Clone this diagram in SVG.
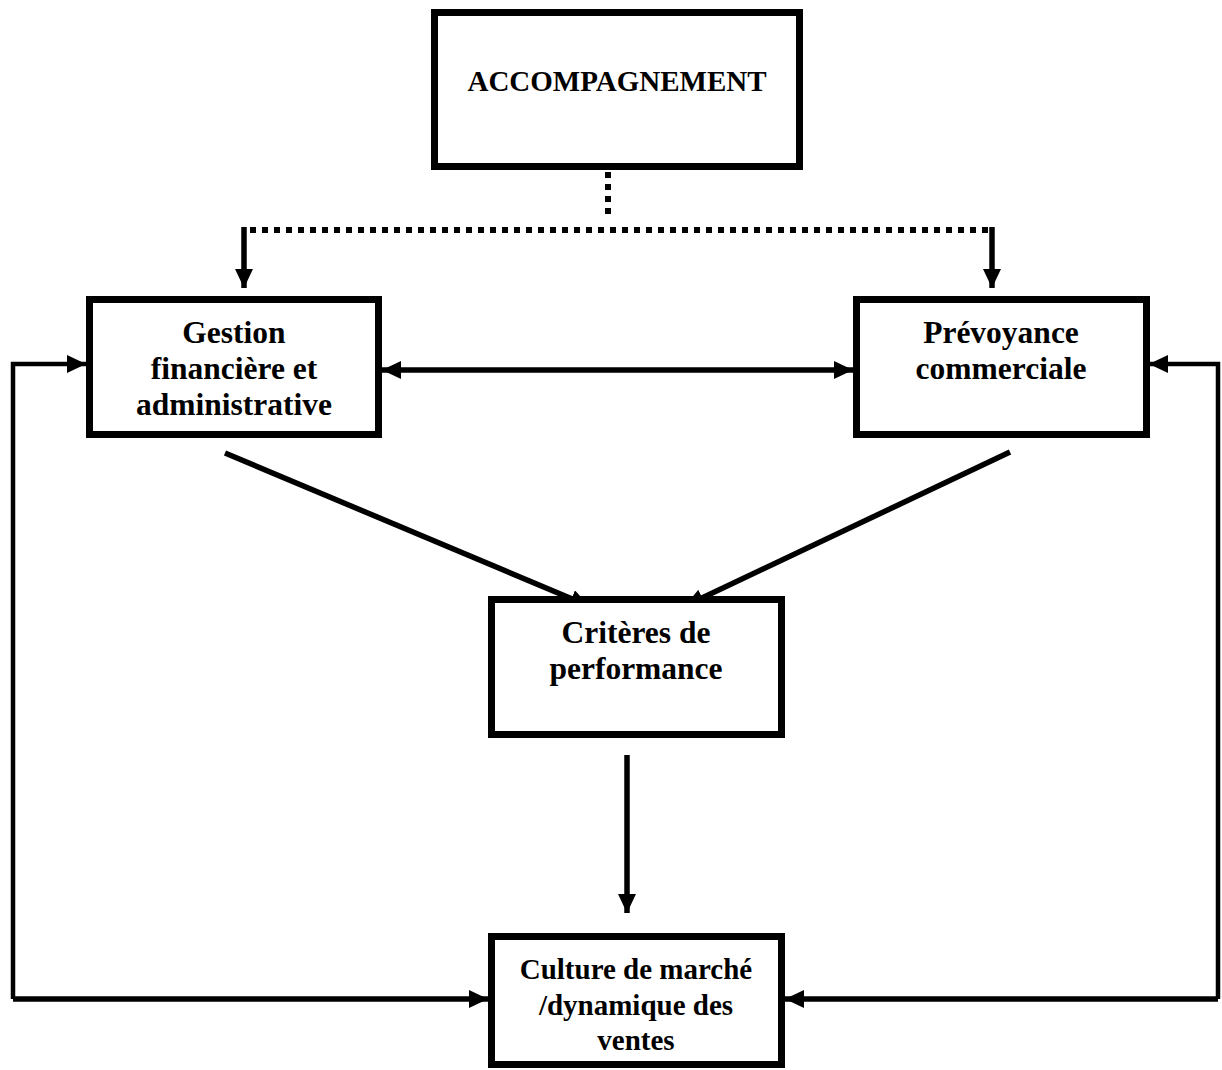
<svg xmlns="http://www.w3.org/2000/svg" width="1222" height="1070" viewBox="0 0 1222 1070">
<style>
.box{fill:#fff;stroke:#000;stroke-width:7}
.t{font-family:"Liberation Serif","Times New Roman",serif;font-weight:bold;font-size:31.5px;fill:#000;text-anchor:middle}
.ln{fill:none;stroke:#000;stroke-width:5.5}
.thin{fill:none;stroke:#000;stroke-width:4.5}
.dot{fill:none;stroke:#000;stroke-width:6;stroke-dasharray:6 6}
</style>
<defs>
<marker id="ah" markerUnits="userSpaceOnUse" markerWidth="22" markerHeight="20" refX="19" refY="9" orient="auto-start-reverse">
<path d="M0,0 L19,9 L0,18 Z" fill="#000"/>
</marker>
</defs>
<g id="connectors">
<path class="dot" d="M608,172 V218"/>
<path class="dot" d="M250,230 H990"/>
<path class="ln" d="M244,227 V288" marker-end="url(#ah)"/>
<path class="ln" d="M992,227 V288" marker-end="url(#ah)"/>
<path class="ln" d="M382,370 H853" marker-start="url(#ah)" marker-end="url(#ah)"/>
<path class="thin" d="M13,999 V364 H86" marker-end="url(#ah)"/>
<path class="ln" d="M13,999 H488" marker-end="url(#ah)"/>
<path class="thin" d="M1218,999 V364 H1149" marker-end="url(#ah)"/>
<path class="ln" d="M1218,999 H785" marker-end="url(#ah)"/>
<path class="ln" d="M225,453 L589,606" marker-end="url(#ah)"/>
<path class="ln" d="M1010,452 L685,606" marker-end="url(#ah)"/>
<path class="ln" d="M627,755 V913" marker-end="url(#ah)"/>
</g>
<g id="accompagnement">
<rect class="box" x="434.5" y="12.5" width="365" height="154"/>
<text class="t" x="617" y="91" style="font-size:29px">ACCOMPAGNEMENT</text>
</g>
<g id="gestion">
<rect class="box" x="89.5" y="299.5" width="289" height="135"/>
<text class="t" x="234" y="343">Gestion</text>
<text class="t" x="234" y="379">financière et</text>
<text class="t" x="234" y="415">administrative</text>
</g>
<g id="prevoyance">
<rect class="box" x="856.5" y="299.5" width="290" height="135"/>
<text class="t" x="1001" y="343">Prévoyance</text>
<text class="t" x="1001" y="379">commerciale</text>
</g>
<g id="criteres">
<rect class="box" x="491.5" y="599.5" width="290" height="135"/>
<text class="t" x="636" y="643">Critères de</text>
<text class="t" x="636" y="679">performance</text>
</g>
<g id="culture">
<rect class="box" x="491.5" y="936.5" width="290" height="128"/>
<text class="t" x="636" y="979" style="font-size:29px">Culture de marché</text>
<text class="t" x="636" y="1015" style="font-size:29px">/dynamique des</text>
<text class="t" x="636" y="1050" style="font-size:29px">ventes</text>
</g>
</svg>
